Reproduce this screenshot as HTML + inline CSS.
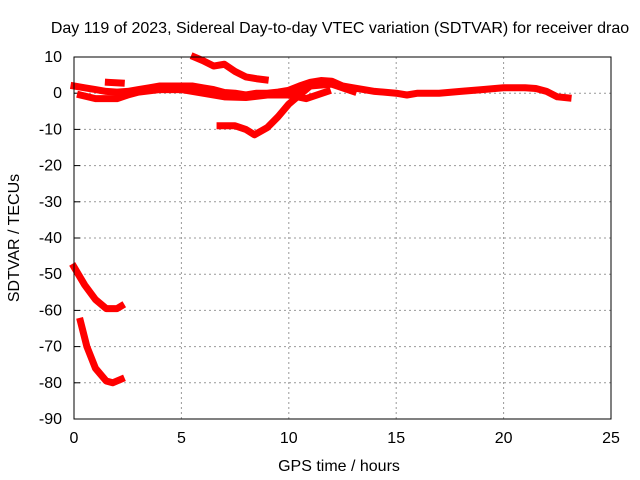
<!DOCTYPE html>
<html><head><meta charset="utf-8"><style>
body{margin:0;background:#fff;}
svg{display:block;font-family:"Liberation Sans",sans-serif;}
</style></head><body>
<svg id="chart" width="640" height="480">
<text x="340" y="33" font-size="16" text-anchor="middle">Day 119 of 2023, Sidereal Day-to-day VTEC variation (SDTVAR) for receiver drao</text>
<text x="339" y="471" font-size="16" text-anchor="middle">GPS time / hours</text>
<text transform="translate(19,238) rotate(-90)" font-size="16" text-anchor="middle">SDTVAR / TECUs</text>
<g id="grid"></g><g id="ticks"></g><g id="marks"></g>
<rect x="74" y="57" width="537" height="362" fill="none" stroke="#000" stroke-width="1"/>
</svg>
<script>
const xTicks=[0,5,10,15,20,25];
const yTicks=[10,0,-10,-20,-30,-40,-50,-60,-70,-80,-90];
const seriesMain=[[0,2],[0.5,1.5],[1,1],[1.5,0.5],[2,0.3],[2.5,0.5],[3,1],[3.5,1.5],[4,2],[4.5,2],[5,2],[5.5,2],[6,1.5],[6.5,1],[7,0.2],[7.5,0],[8,-0.5],[8.5,0],[9,0],[9.5,0.3],[10,0.8],[10.5,2],[11,3],[11.5,3.5],[12,3.3],[12.5,2],[13,1.5],[14,0.5],[15,0],[15.5,-0.5],[16,0],[17,0],[18,0.5],[19,1],[20,1.5],[21,1.5],[21.5,1.3],[22,0.5],[22.5,-1],[23,-1.3]];
const seriesLow=[[0.3,-0.5],[1,-1.5],[2,-1.5],[2.5,-0.5],[3,0.3],[4,1],[5,1],[6,0],[7,-1],[8,-1.2],[9,-0.5],[10,-0.5],[11,2],[12,2.5],[13,0.5]];
const seriesUpper=[[5.6,10],[6,9],[6.5,7.5],[7,8],[7.5,6],[8,4.5],[8.5,4],[8.9,3.7]];
const seriesDip=[[6.8,-9],[7.5,-9],[8,-10],[8.4,-11.5],[9,-9.5],[9.5,-6.5],[10,-3],[10.5,-0.5],[11,2]];
const seriesSide=[[10,-0.5],[10.8,-1.5],[11.3,-0.5],[11.8,0.5]];
const seriesShort=[[1.6,3],[2.2,2.8]];
const seriesBottom1=[[0,-48],[0.5,-53],[1,-57],[1.5,-59.5],[2,-59.5],[2.2,-58.8]];
const seriesBottom2=[[0.3,-63],[0.6,-70],[1,-76],[1.5,-79.5],[1.8,-80],[2.2,-79]];
const allSeries=[seriesMain,seriesLow,seriesUpper,seriesDip,seriesSide,seriesShort,seriesBottom1,seriesBottom2];
const X=h=>74+h*537/25, Y=v=>57+(10-v)*362/100;
const ns="http://www.w3.org/2000/svg";
const g=document.getElementById('grid'),t=document.getElementById('ticks'),m=document.getElementById('marks');
function mk(tag,a,p){const e=document.createElementNS(ns,tag);for(const k in a)e.setAttribute(k,a[k]);p.appendChild(e);return e;}
xTicks.forEach(v=>{const x=X(v);
 if(v>0&&v<25){const l=mk('line',{x1:x,x2:x,y1:57,y2:419,stroke:'#999','stroke-dasharray':'2,3'},g);
 
 }
 const tx=mk('text',{x:x,y:443,'font-size':16,'text-anchor':'middle'},t);tx.textContent=v;
 
 });
yTicks.forEach(v=>{const y=Y(v);
 if(v<10&&v>-90){const l=mk('line',{x1:74,x2:611,y1:y,y2:y,stroke:'#999','stroke-dasharray':'2,3'},g);
 
 }
 const tk=mk('line',{x1:74,x2:80,y1:y,y2:y,stroke:'#000'},t);
 
 
 const tx=mk('text',{x:62,y:y+5,'font-size':16,'text-anchor':'end'},t);tx.textContent=v;
 
 });
allSeries.forEach(s=>{
 const p=mk('polyline',{points:s.map(d=>X(d[0])+','+Y(d[1])).join(' '),fill:'none',stroke:'#f00','stroke-width':7,'stroke-linejoin':'round','stroke-linecap':'square'},m);
 
 });
</script>
</body></html>
